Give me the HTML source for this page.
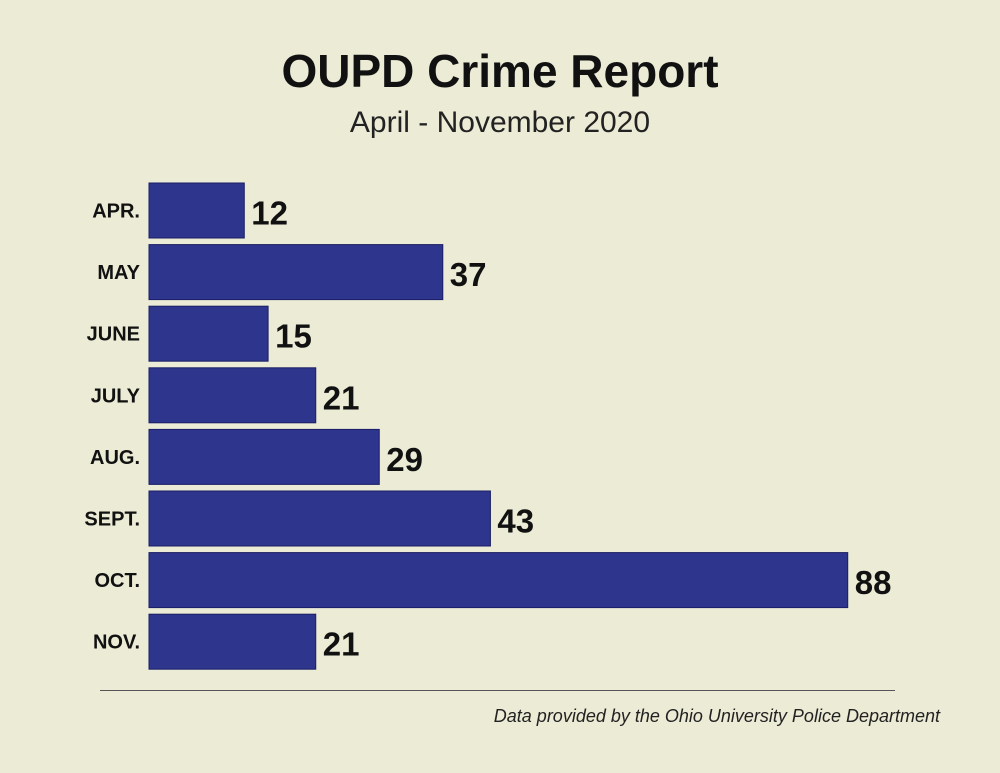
<!DOCTYPE html>
<html><head><meta charset="utf-8"><style>
body{margin:0;background:#ecebd5;}
#wrap{position:relative;width:1000px;height:773px;background:#ecebd5;font-family:"Liberation Sans",sans-serif;overflow:hidden;}
.t{position:absolute;left:0;width:1000px;text-align:center;color:#111;}
</style></head><body>
<div id="wrap">
<div class="t" style="top:44px;font-size:46px;font-weight:bold;">OUPD Crime Report</div>
<div class="t" style="top:106px;font-size:30px;color:#222;">April - November 2020</div>
<svg id="svg" width="1000" height="773" style="position:absolute;left:0;top:0"></svg>
<div style="position:absolute;left:100px;top:690px;width:795px;height:1px;background:#555;"></div>
<div style="position:absolute;right:60px;top:706px;font-size:18px;font-style:italic;color:#222;">Data provided by the Ohio University Police Department</div>
</div>
<script>
const categories=["APR.","MAY","JUNE","JULY","AUG.","SEPT.","OCT.","NOV."];
const values=[12,37,15,21,29,43,88,21];
const svg=document.getElementById('svg');
const NS='http://www.w3.org/2000/svg';
const x0=149, scale=7.94, y0=183, pitch=61.6, bh=55;
function xs(v){return x0+v*scale;}
function ys(i){return y0+i*pitch;}
categories.forEach((c,i)=>{
  const r=document.createElementNS(NS,'rect');
  r.setAttribute('x',x0);r.setAttribute('y',ys(i));
  r.setAttribute('width',xs(values[i])-x0);r.setAttribute('height',bh);
  r.setAttribute('fill','#2d358c');r.setAttribute('stroke','#1a1f66');r.setAttribute('stroke-width','1');
  
  
  svg.appendChild(r);
  const l=document.createElementNS(NS,'text');
  l.setAttribute('x',140);l.setAttribute('y',ys(i)+bh/2+7);
  l.setAttribute('text-anchor','end');l.setAttribute('font-size','20');l.setAttribute('font-weight','bold');
  l.setAttribute('font-family','Liberation Sans, sans-serif');l.setAttribute('fill','#111');
  l.textContent=c;
  
  
  svg.appendChild(l);
  const v=document.createElementNS(NS,'text');
  v.setAttribute('x',xs(values[i])+7);v.setAttribute('y',ys(i)+bh/2+14);
  v.setAttribute('font-size','33');v.setAttribute('font-weight','bold');
  v.setAttribute('font-family','Liberation Sans, sans-serif');v.setAttribute('fill','#111');
  v.textContent=values[i];
  
  
  svg.appendChild(v);
});
</script>
</body></html>
